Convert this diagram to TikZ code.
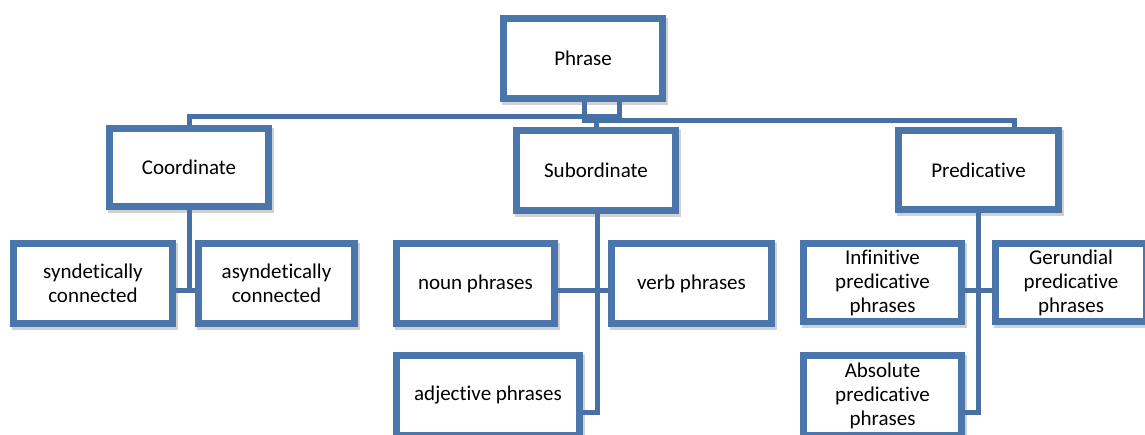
\documentclass[tikz,border=0pt]{standalone}
\usepackage{fontspec}
\setmainfont{Carlito}[Ligatures={NoCommon,NoContextual}]
\usetikzlibrary{shadows}
\definecolor{boxblue}{HTML}{4A76AC}
\definecolor{lineblue}{HTML}{4670A6}
\begin{document}
\begin{tikzpicture}[x=1pt,y=-1pt,
  box/.style={draw=boxblue, line width=7.5pt, fill=white, inner sep=0pt, align=center,
    font=\fontsize{21}{24}\selectfont,
    drop shadow={shadow xshift=2pt, shadow yshift=-3pt, fill=black, draw=black, line width=7pt, opacity=0.18}},
  conn/.style={draw=lineblue, line width=5pt}]
\clip (0,0) rectangle (1145,434);
\useasboundingbox (0,0) rectangle (1145,434);
\node[box, minimum width=159pt, minimum height=80pt] (phrase) at (583,58.5) {Phrase};
\node[box, minimum width=159pt, minimum height=78pt] (coord) at (189,167.5) {Coordinate};
\node[box, minimum width=159pt, minimum height=80pt] (sub) at (596,170.5) {Subordinate};
\node[box, minimum width=160pt, minimum height=79pt] (pred) at (978.5,170) {Predicative};
\draw[conn] ([xshift=36pt]phrase.south) -- ++(0,14) -| (coord.north);
\draw[conn] ([xshift=1pt]phrase.south) -- ++(0,18) -| ([xshift=36pt]pred.north);
\draw[conn] (sub.north) |- ([yshift=-18pt]phrase.south);
\node[box, minimum width=159pt, minimum height=80pt] (synd) at (93,283.5) {syndetically\\connected};
\node[box, minimum width=156pt, minimum height=80pt] (asynd) at (276.5,283.5) {asyndetically\\connected};
\node[box, minimum width=158pt, minimum height=80pt] (noun) at (475.5,283.5) {noun phrases};
\node[box, minimum width=160pt, minimum height=80pt] (verb) at (691.5,283.5) {verb phrases};
\node[box, minimum width=183pt, minimum height=80pt] (adj) at (488,395.5) {adjective phrases};
\node[box, minimum width=158pt, minimum height=78pt] (inf) at (882.5,282.5) {Infinitive\\predicative\\phrases};
\node[box, minimum width=151pt, minimum height=78pt] (ger) at (1071,282.5) {Gerundial\\predicative\\phrases};
\node[box, minimum width=158pt, minimum height=80pt] (abs) at (882.5,395.5) {Absolute\\predicative\\phrases};
\draw[conn] (coord.south) |- ([yshift=-6.5pt]synd.east);
\draw[conn] (coord.south) |- ([yshift=-6.5pt]asynd.west);
\draw[conn] ([xshift=1pt]sub.south) |- ([yshift=-6.5pt]noun.east);
\draw[conn] ([xshift=1pt]sub.south) |- ([yshift=-6.5pt]verb.west);
\draw[conn] ([xshift=1pt]sub.south) |- ([yshift=-16.5pt]adj.east);
\draw[conn] (pred.south) |- ([yshift=-7.5pt]inf.east);
\draw[conn] (pred.south) |- ([yshift=-7.5pt]ger.west);
\draw[conn] (pred.south) |- ([yshift=-16.5pt]abs.east);
\end{tikzpicture}
\end{document}
